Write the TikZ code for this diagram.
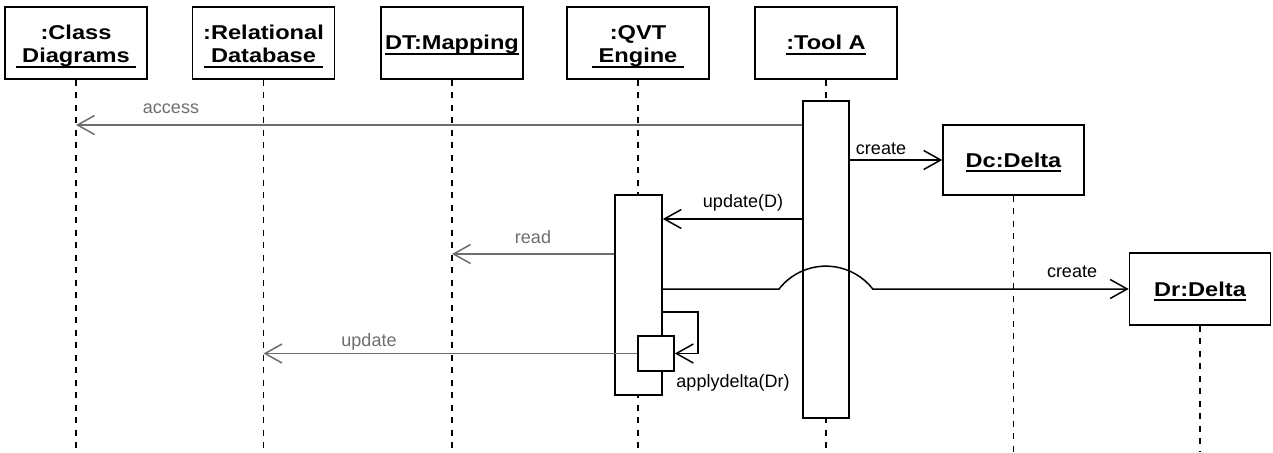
\documentclass[tikz,border=0pt]{standalone}
\usepackage{fontspec}
\setmainfont{Liberation Sans}
\newfontfamily\hdfont[FakeStretch=1.18]{Liberation Sans}
\usetikzlibrary{arrows.meta}
\definecolor{msggray}{RGB}{110,110,110}

\newlength\hdw
% two line heading, second line underlined with a space on each side
\newcommand\hdtwo[2]{\setbox0\hbox{\ #2\ }\global\hdw=\wd0
  \rule{0pt}{21pt}#1\\\makebox[\hdw]{#2}\llap{\rule[-5.5pt]{\hdw}{1.7pt}}}
% one line heading, underlined
\newcommand\hdone[1]{\setbox0\hbox{#1}\global\hdw=\wd0
  \rule{0pt}{19pt}#1\llap{\rule[-5pt]{\hdw}{1.7pt}}}

\tikzset{
  objbox/.style={draw, line width=1.6pt, fill=white, minimum width=142pt,
    minimum height=72pt, inner sep=0pt, align=center,
    font=\hdfont\bfseries\fontsize{20}{23}\selectfont},
  lifeline/.style={line width=1.6pt, dash pattern=on 6pt off 6.5pt},
  actbox/.style={draw, line width=1.6pt, fill=white, inner sep=0pt},
  msg/.style={line width=1.5pt, -{Straight Barb[length=17pt,width=19pt]}},
  retmsg/.style={msg, msggray},
  lbl/.style={font=\fontsize{18}{20}\selectfont, inner sep=0pt}
}

\begin{document}
\begin{tikzpicture}[x=1pt,y=-1pt]
    \useasboundingbox (0,0) rectangle (1273,452);
    %%%%% THE OBJECTS
    \node[objbox] (hCD)  at (76,43)    {\hdtwo{:Class}{Diagrams}};
    \node[objbox] (hRD)  at (263.5,43) {\hdtwo{:Relational}{Database}};
    \node[objbox] (hDT)  at (452,43)   {\hdone{DT:Mapping}};
    \node[objbox] (hQVT) at (638,43)   {\hdtwo{:QVT}{Engine}};
    \node[objbox] (hTA)  at (826,43)   {\hdone{:Tool A}};
    \node[objbox, minimum width=141pt, minimum height=70pt] (hDc) at (1013.5,160) {\hdone{Dc:Delta}};
    \node[objbox, minimum width=141pt] (hDr) at (1200,289) {\hdone{Dr:Delta}};
    %%%%% THE LIFELINES
    \coordinate (bot) at (0,452);
    \foreach \obj in {hCD,hRD,hDT,hQVT,hTA,hDc,hDr}
      \draw[lifeline] (\obj.south) -- (\obj.south |- bot);
    %%%%% THE ACTIVATIONS
    \node[actbox, minimum width=46pt, minimum height=317pt] (actTA)   at (826,259.5) {};
    \node[actbox, minimum width=47pt, minimum height=200pt] (actQVT)  at (638.5,295) {};
    \node[actbox, minimum width=36pt, minimum height=35pt]  (actSelf) at (656,353.5) {};
    %%%%% THE MESSAGES
    \coordinate (yAcc)  at (0,125);
    \coordinate (yUpd)  at (0,219);
    \coordinate (yRead) at (0,254);
    \coordinate (yCdr)  at (0,289);
    \coordinate (ySelf) at (0,312);
    \coordinate (jump)  at (779,289);
    \draw[retmsg] (actTA.west |- yAcc) -- (hCD |- yAcc);
    \draw[msg] (actTA.east |- hDc.west) -- (hDc.west);
    \draw[msg] (actTA.west |- yUpd) -- (actQVT.east |- yUpd);
    \draw[retmsg] (actQVT.west |- yRead) -- (hDT |- yRead);
    \draw[msg] (actQVT.east |- yCdr) -- (jump)
      arc[start angle=142, end angle=38, radius=59.5pt] -- (hDr.west);
    \draw[msg] (actQVT.east |- ySelf) -- ++(35,0) |- (actSelf.east);
    \draw[retmsg] (actSelf.west) -- (hRD |- actSelf.west);
    % labels
    \node[lbl, msggray] (lAcc)  at (171,109) {access};
    \node[lbl] (lCdc)  at (881,149)  {create};
    \node[lbl] (lUpd)  at (743,203)  {update(D)};
    \node[lbl, msggray] (lRead) at (533,237) {read};
    \node[lbl] (lCdr)  at (1072,272) {create};
    \node[lbl, msggray] (lUpdR) at (369,342) {update};
    \node[lbl] (lApp)  at (733,383)  {applydelta(Dr)};
\end{tikzpicture}
\end{document}
